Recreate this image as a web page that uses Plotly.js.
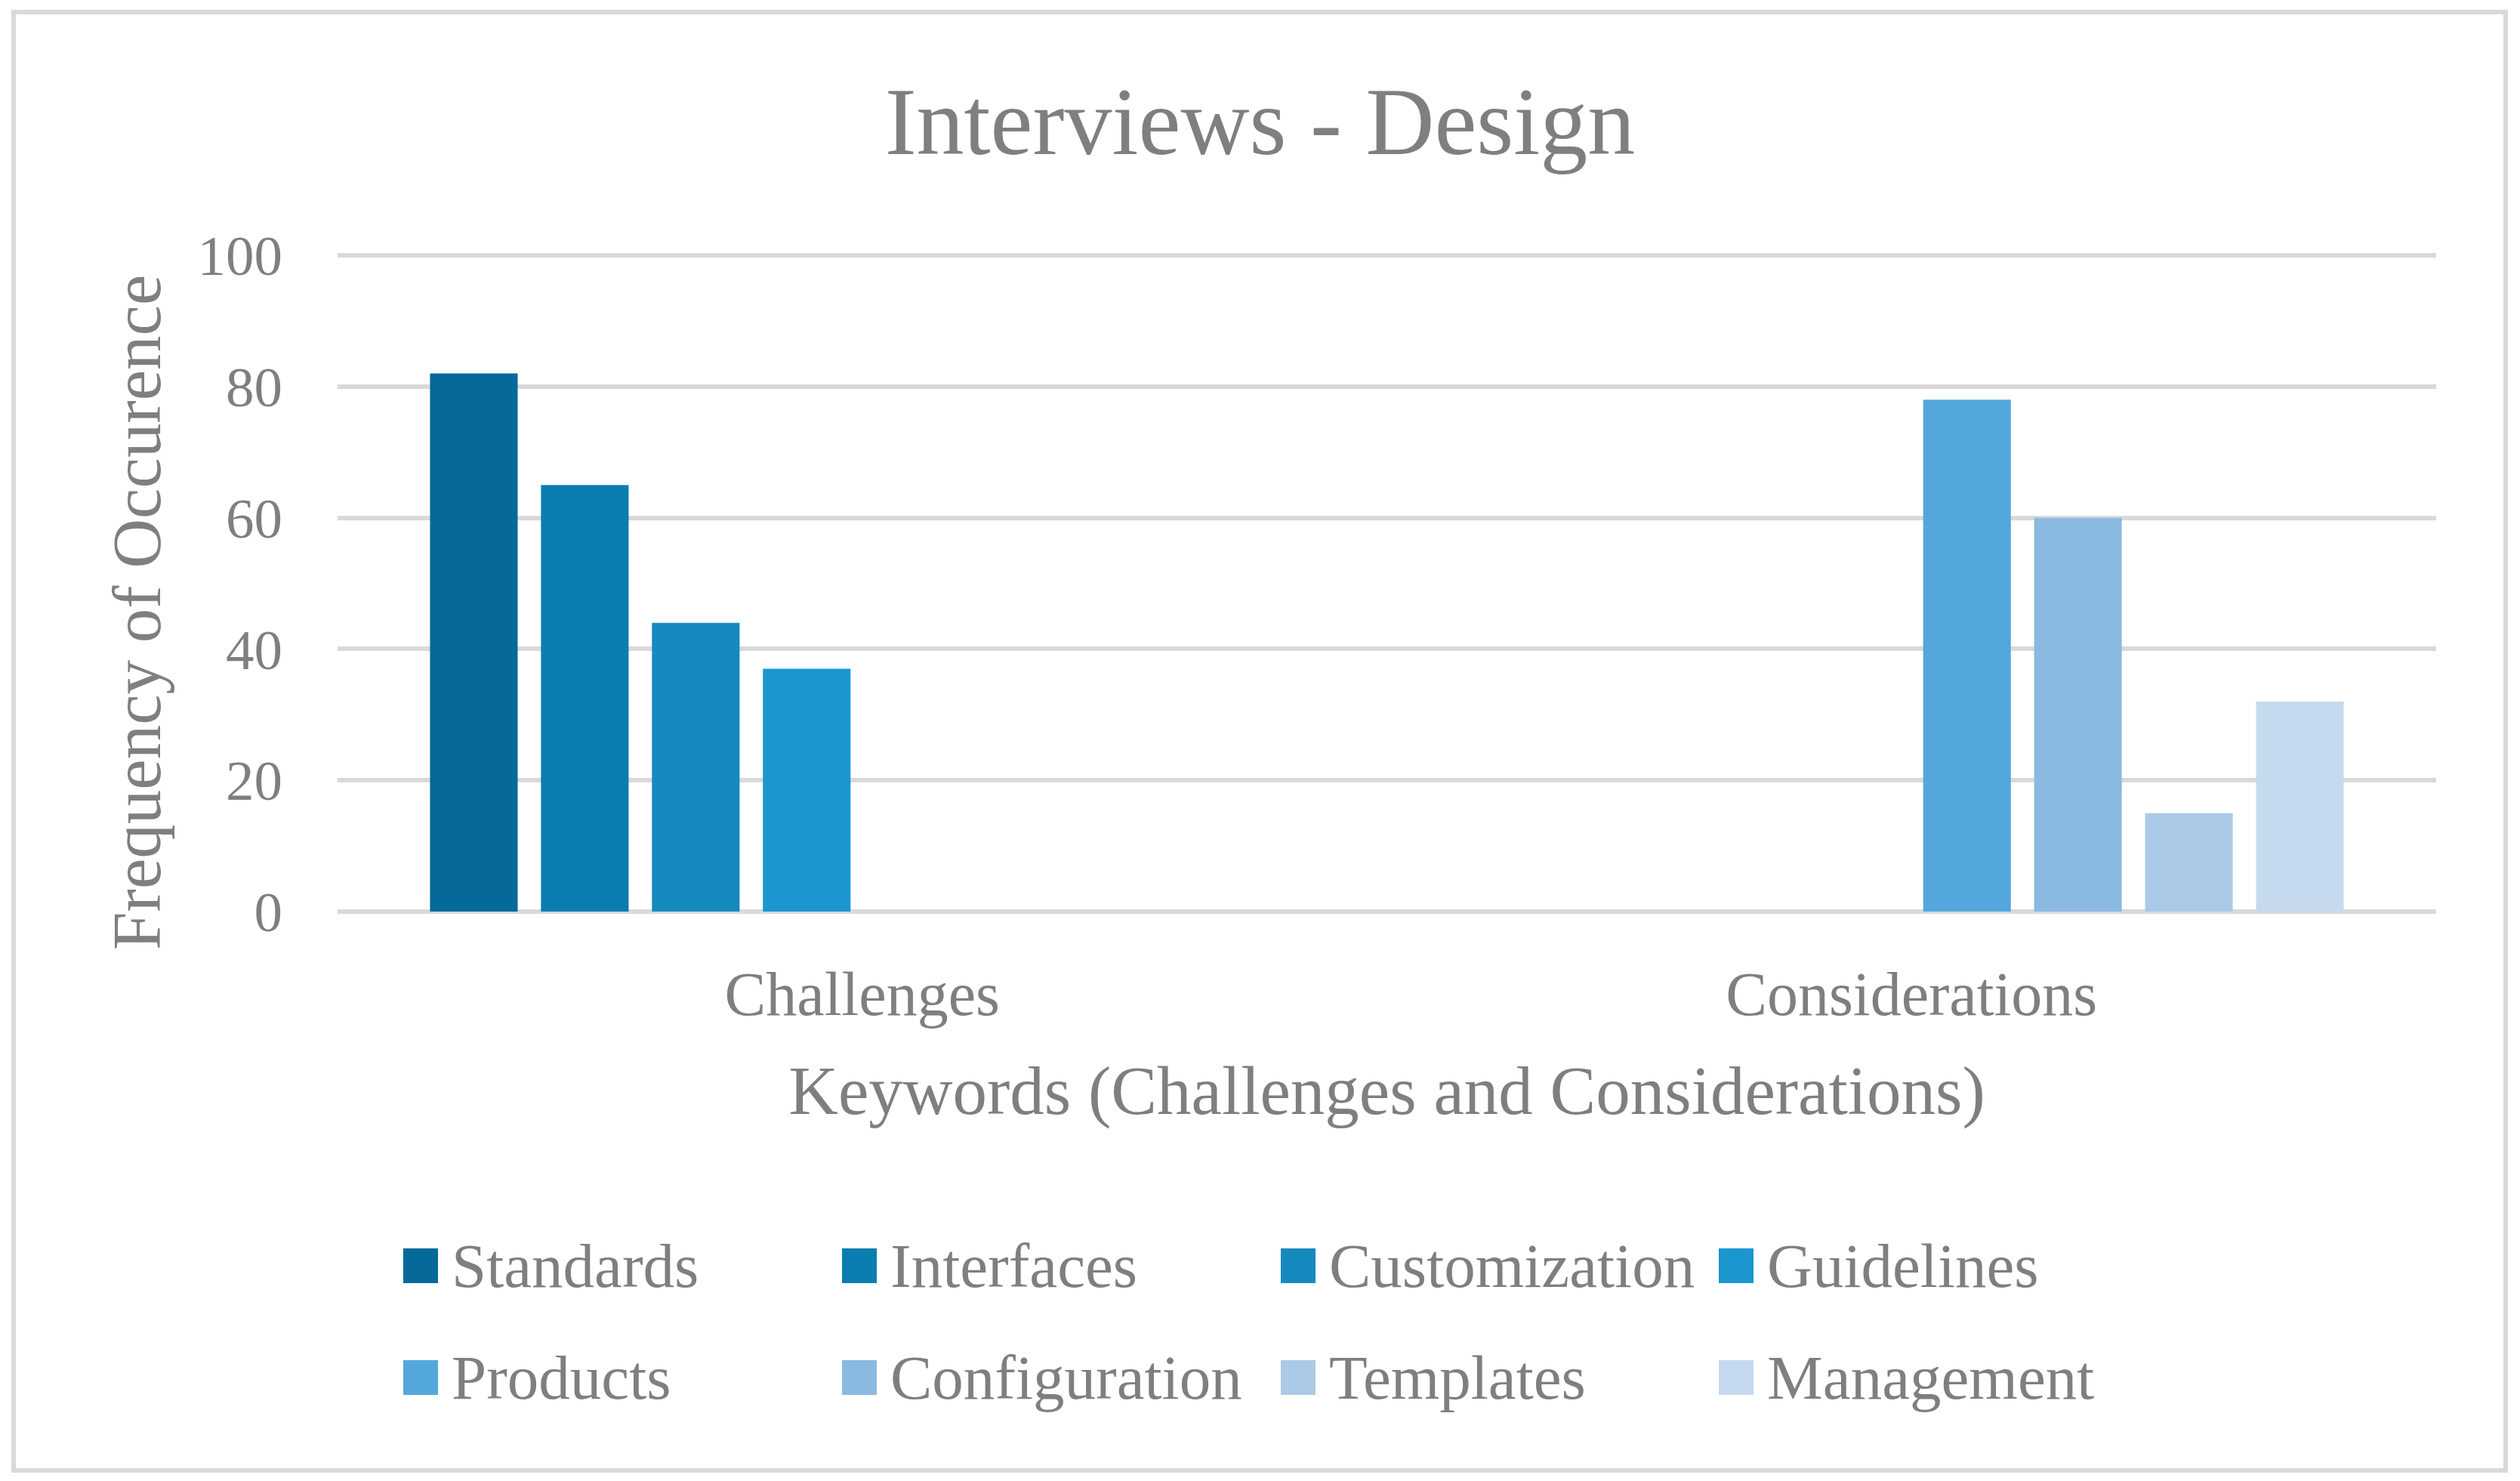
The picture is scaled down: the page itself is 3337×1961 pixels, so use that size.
<!DOCTYPE html>
<html>
<head>
<meta charset="utf-8">
<script src="https://cdn.plot.ly/plotly-3.0.1.min.js"></script>
<style>
  html, body { margin: 0; padding: 0; background: #ffffff; }
  #chart { width: 3337px; height: 1961px; }
</style>
</head>
<body>
<div id="chart"></div>
<script>
// ---- data ----
const categories = ["Challenges", "Considerations"];
const seriesNames = ["Standards", "Interfaces", "Customization", "Guidelines",
                     "Products", "Configuration", "Templates", "Management"];
const challengeValues     = [82, 65, 44, 37, null, null, null, null];
const considerationValues = [null, null, null, null, 78, 60, 15, 32];
const yTickValues = [0, 20, 40, 60, 80, 100];

// ---- styling ----
const seriesColors = ["#05699a", "#0b7db0", "#1689bf", "#1b96cf",
                      "#53a7dc", "#8ab9e1", "#aacae8", "#c5daee"];
const FONT = "'Liberation Serif', 'Times New Roman', serif";
const TEXT = "#7f7f7f";
const GRID = "#d9d9d9";

const W = 3337, H = 1961;
const M = { l: 447, r: 111, t: 336, b: 754 };
const plotW = W - M.l - M.r, plotH = H - M.t - M.b;
const px2x = px => (px - M.l) / plotW;
const py2y = py => (H - M.b - py) / plotH;

const traces = seriesNames.map((name, i) => ({
  type: "bar",
  name: name,
  x: categories,
  y: [challengeValues[i], considerationValues[i]],
  marker: { color: seriesColors[i], line: { width: 0 } },
  showlegend: false,
  hoverinfo: "x+y+name"
}));

// legend drawn as squares + text, laid out in 2 rows x 4 columns
const legendColX = [534, 1115, 1696, 2276];
const legendRowY = [1676, 1824];
const sw = 46;
const shapes = [];
const annotations = [];
seriesNames.forEach((name, i) => {
  const cx = legendColX[i % 4];
  const cy = legendRowY[Math.floor(i / 4)];
  shapes.push({
    type: "rect", xref: "paper", yref: "paper",
    x0: px2x(cx), x1: px2x(cx + sw),
    y0: py2y(cy + sw / 2), y1: py2y(cy - sw / 2),
    fillcolor: seriesColors[i], line: { width: 0 }
  });
  annotations.push({
    xref: "paper", yref: "paper",
    x: px2x(cx + sw + 16), y: py2y(cy),
    xanchor: "left", yanchor: "middle",
    text: name, showarrow: false,
    font: { family: FONT, size: 83, color: TEXT }
  });
});

// y-axis title (sits slightly below the plot-area centre in the reference)
annotations.push({
  xref: "paper", yref: "paper",
  x: px2x(181), y: py2y(811),
  xanchor: "center", yanchor: "middle",
  textangle: -90,
  text: "Frequency of Occurence", showarrow: false,
  font: { family: FONT, size: 91, color: TEXT }
});

// outer chart border
shapes.push({
  type: "rect", xref: "paper", yref: "paper",
  x0: px2x(18), x1: px2x(3318), y0: py2y(1947), y1: py2y(16),
  line: { color: GRID, width: 6 }, fillcolor: "rgba(0,0,0,0)", layer: "below"
});

const layout = {
  width: W, height: H,
  margin: M,
  paper_bgcolor: "#ffffff",
  plot_bgcolor: "#ffffff",
  font: { family: FONT, color: TEXT },
  title: {
    text: "Interviews - Design",
    font: { family: FONT, size: 126, color: TEXT },
    x: 0.5, xanchor: "center",
    yref: "container", y: 1 - 160 / H, yanchor: "middle"
  },
  barmode: "group",
  bargap: 0.154,
  bargroupgap: 0.21,
  showlegend: false,
  xaxis: {
    type: "category",
    showgrid: false, zeroline: false, showline: false,
    ticks: "",
    ticklabelstandoff: 54,
    tickfont: { family: FONT, size: 82, color: TEXT },
    title: {
      text: "Keywords (Challenges and Considerations)",
      font: { family: FONT, size: 91, color: TEXT },
      standoff: 50
    }
  },
  yaxis: {
    range: [0, 100.25],
    tickvals: yTickValues,
    ticktext: yTickValues.map(String),
    showgrid: true, gridcolor: GRID, gridwidth: 6,
    zeroline: true, zerolinecolor: GRID, zerolinewidth: 6,
    showline: false, ticks: "",
    ticklabelstandoff: 72,
    tickfont: { family: FONT, size: 75, color: TEXT }
  },
  shapes: shapes,
  annotations: annotations
};

Plotly.newPlot("chart", traces, layout, { displayModeBar: false, staticPlot: true });
</script>
</body>
</html>
